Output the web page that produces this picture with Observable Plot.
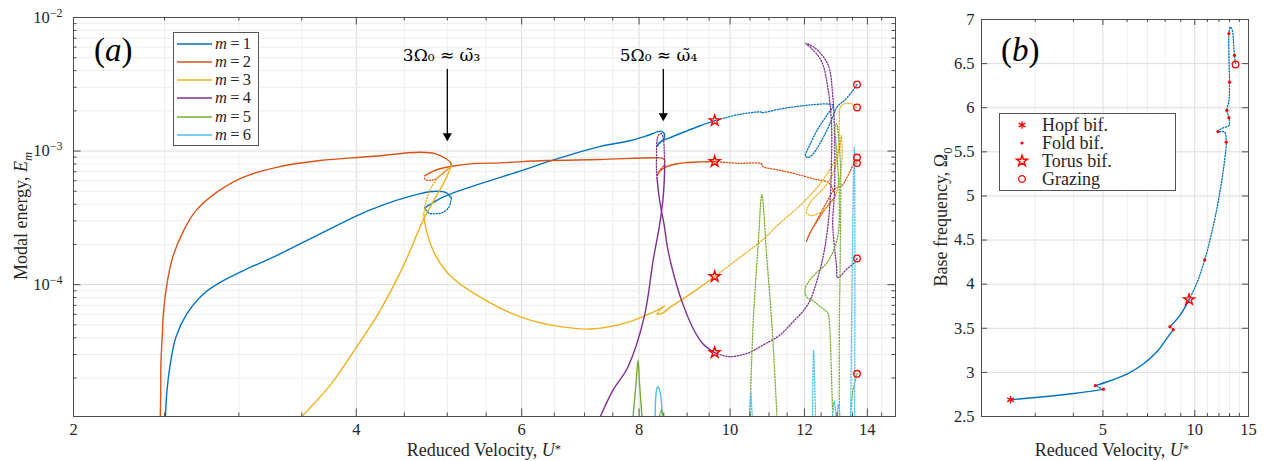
<!DOCTYPE html>
<html>
<head>
<meta charset="utf-8">
<script src="https://cdn.jsdelivr.net/npm/d3@7"></script>
<script src="https://cdn.jsdelivr.net/npm/@observablehq/plot@0.6"></script>
<style>
html,body{margin:0;padding:0;background:#fff;}
#wrap{position:relative;width:1269px;height:461px;overflow:hidden;font-family:"Liberation Serif","DejaVu Serif",serif;color:#262626;}
.panel{position:absolute;top:0}
.lbl{position:absolute;white-space:nowrap;line-height:1}
.ytitle{position:absolute;white-space:nowrap;transform:translate(-50%,-50%) rotate(-90deg);font-size:18px;line-height:1}
.xtitle{position:absolute;white-space:nowrap;transform:translate(-50%,-50%);font-size:18px;line-height:1}
.xtitle sup{vertical-align:0.25em}
.legend{position:absolute;background:#fff;border:1px solid #555;box-sizing:border-box}
.row{position:absolute;left:0;right:0;height:18px;line-height:18px;white-space:nowrap}
sub,sup{font-size:70%;line-height:0}
</style>
</head>
<body>
<div id="wrap">
  <div id="pa" class="panel" style="left:0"></div>
  <div id="pb" class="panel" style="left:905px"></div>
</div>
<script>
// ---------------- DATA: panel (a) modal energy vs reduced velocity ----------------
const modes = [1, 2, 3, 4, 5, 6];
const modeColors = ["#0072BD", "#D95319", "#EDB120", "#7E2F8E", "#77AC30", "#4DBEEE"];

const m1 = [
  {stable: true, pts: [[2.505,1.0e-5],[2.515,1.61e-5],[2.536,2.56e-5],[2.57,4.03e-5],[2.64,6.03e-5],[2.75,8.52e-5],[2.866,1.04e-4],[3.03,1.27e-4],[3.29,1.65e-4],[3.66,2.4e-4],[4.14,3.63e-4],[4.68,4.8e-4],[4.87,5.0e-4],[4.99,4.87e-4],[5.05,4.45e-4]]},
  {stable: false, pts: [[5.05,4.45e-4],[5.02,3.8e-4],[4.94,3.46e-4],[4.87,3.4e-4],[4.79,3.42e-4],[4.74,3.65e-4],[4.735,3.77e-4]]},
  {stable: true, pts: [[4.735,3.77e-4],[4.79,3.97e-4],[4.91,4.4e-4],[5.05,4.8e-4],[5.415,5.68e-4],[6.0,7.14e-4],[6.5,8.62e-4],[7.263,1.08e-3],[7.84,1.2e-3],[8.2,1.32e-3],[8.44,1.41e-3],[8.51,1.35e-3],[8.51,1.25e-3]]},
  {stable: false, pts: [[8.51,1.25e-3],[8.43,1.16e-3],[8.36,1.08e-3]]},
  {stable: true, pts: [[8.36,1.08e-3],[8.41,1.16e-3],[8.61,1.25e-3],[8.96,1.40e-3],[9.28,1.54e-3],[9.63,1.69e-3]]},
  {stable: false, pts: [[9.63,1.69e-3],[10.23,1.88e-3],[10.79,1.96e-3],[10.81,1.94e-3],[11.28,2.06e-3],[11.79,2.16e-3],[12.30,2.23e-3],[12.70,2.25e-3],[12.88,2.19e-3],[12.70,1.89e-3],[12.39,1.45e-3],[12.15,1.10e-3],[12.03,9.25e-4],[12.09,8.94e-4],[12.21,9.25e-4],[12.48,1.16e-3],[12.79,1.635e-3],[13.01,2.16e-3],[13.23,2.39e-3],[13.46,2.74e-3],[13.65,3.15e-3]]}
];
const m2 = [
  {stable: true, pts: [[2.474,1.0e-5],[2.477,1.61e-5],[2.478,2.56e-5],[2.486,4.15e-5],[2.493,6.06e-5],[2.515,1.01e-4],[2.55,1.6e-4],[2.62,2.54e-4],[2.70,3.58e-4],[2.84,4.91e-4],[3.03,6.36e-4],[3.29,7.55e-4],[3.66,8.49e-4],[4.14,9.10e-4],[4.68,9.8e-4],[4.87,9.5e-4],[4.99,8.72e-4],[5.04,8.20e-4],[5.05,7.79e-4]]},
  {stable: false, pts: [[5.05,7.79e-4],[4.94,6.75e-4],[4.82,6.05e-4],[4.73,6.19e-4],[4.735,6.55e-4]]},
  {stable: true, pts: [[4.735,6.55e-4],[4.82,7.02e-4],[4.91,7.37e-4],[5.06,7.7e-4],[5.32,8.05e-4],[5.687,8.16e-4],[6.37,8.49e-4],[7.263,8.64e-4],[8.41,8.9e-4],[8.49,8.79e-4],[8.52,8.49e-4]]},
  {stable: false, pts: [[8.52,8.49e-4],[8.51,7.92e-4],[8.43,7.27e-4],[8.36,6.55e-4]]},
  {stable: true, pts: [[8.36,6.55e-4],[8.41,7.02e-4],[8.55,7.6e-4],[8.75,8.0e-4],[8.96,8.2e-4],[9.3,8.3e-4],[9.63,8.35e-4]]},
  {stable: false, pts: [[9.63,8.35e-4],[10.23,8.1e-4],[10.79,8.06e-4],[10.84,7.66e-4],[11.28,7.2e-4],[11.79,6.70e-4],[12.30,6.16e-4],[12.73,5.81e-4],[12.88,5.06e-4],[12.94,4.64e-4],[12.70,3.91e-4],[12.39,3.01e-4],[12.15,2.41e-4],[12.06,2.1e-4],[12.12,2.3e-4],[12.39,3.1e-4],[12.70,4.26e-4],[12.94,5.24e-4],[13.15,5.5e-4],[13.40,6.9e-4],[13.56,8.06e-4],[13.65,8.13e-4]]}
];
const m3 = [
  {stable: true, pts: [[3.486,1.0e-5],[3.76,1.80e-5],[4.0,3.39e-5],[4.24,6.39e-5],[4.5,1.43e-4],[4.71,3.01e-4],[4.87,4.64e-4],[4.99,6.36e-4],[5.05,7.79e-4]]},
  {stable: false, pts: [[5.05,7.79e-4],[4.91,6.55e-4],[4.82,5.51e-4],[4.76,4.48e-4],[4.73,3.71e-4],[4.72,3.4e-4]]},
  {stable: true, pts: [[4.72,3.4e-4],[4.75,2.54e-4],[4.87,1.6e-4],[5.06,1.13e-4],[5.50,7.59e-5],[6.0,5.69e-5],[6.5,4.93e-5],[7.10,4.65e-5],[7.78,5.22e-5],[8.27,6.2e-5],[8.41,6.57e-5],[8.51,6.9e-5]]},
  {stable: false, pts: [[8.51,6.9e-5],[8.43,6.5e-5],[8.36,6.0e-5]]},
  {stable: true, pts: [[8.36,6.0e-5],[8.45,6.06e-5],[8.67,6.9e-5],[8.96,8.03e-5],[9.28,9.5e-5],[9.63,1.15e-4]]},
  {stable: false, pts: [[9.63,1.15e-4],[10.23,1.59e-4],[10.81,2.14e-4],[11.28,2.86e-4],[11.79,3.74e-4],[12.30,5.06e-4],[12.63,6.44e-4],[12.88,8.06e-4],[13.07,1.01e-3],[13.13,1.31e-3],[13.16,1.01e-3],[13.10,6.55e-4],[12.94,4.64e-4],[12.63,3.71e-4],[12.21,3.29e-4],[12.06,3.46e-4],[12.21,4.26e-4],[12.57,5.24e-4],[12.88,6.9e-4],[13.04,1.01e-3],[13.07,1.69e-3],[13.10,2.12e-3],[13.23,2.26e-3],[13.46,2.26e-3],[13.65,2.12e-3]]}
];
const m4 = [
  {stable: true, pts: [[7.263,1.0e-5],[7.5,1.61e-5],[7.78,2.4e-5],[8.10,5.69e-5],[8.28,1.51e-4],[8.41,2.77e-4],[8.48,4.26e-4],[8.51,6.01e-4],[8.52,7.79e-4]]},
  {stable: false, pts: [[8.52,7.79e-4],[8.51,1.009e-3],[8.49,1.24e-3],[8.45,1.35e-3],[8.40,1.33e-3],[8.36,1.2e-3],[8.35,9.25e-4],[8.35,7.14e-4],[8.36,6.33e-4]]},
  {stable: true, pts: [[8.36,6.33e-4],[8.40,4.64e-4],[8.45,3.58e-4],[8.51,2.77e-4],[8.57,1.96e-4],[8.67,1.35e-4],[8.88,7.59e-5],[9.16,4.52e-5],[9.36,3.6e-5],[9.63,3.1e-5]]},
  {stable: false, pts: [[9.63,3.1e-5],[9.98,2.89e-5],[10.48,3.1e-5],[10.84,3.53e-5],[11.28,4.15e-5],[11.59,5.01e-5],[12.10,7.10e-5],[12.40,1.13e-4],[12.60,1.81e-4],[12.76,3.65e-4],[12.82,8.2e-4],[12.82,1.65e-3],[12.71,2.96e-3],[12.51,4.72e-3],[12.18,5.96e-3],[12.04,6.39e-3],[12.30,5.96e-3],[12.71,4.45e-3],[12.86,2.63e-3],[12.92,1.24e-3],[12.92,5.17e-4],[12.86,2.88e-4],[12.91,1.96e-4],[12.98,1.39e-4],[13.02,1.13e-4],[13.33,1.32e-4],[13.56,1.46e-4],[13.65,1.57e-4]]}
];
const m5 = [
  {stable: true, pts: [[7.88,1.0e-5],[7.94,1.8e-5],[7.98,2.72e-5],[8.01,1.8e-5],[8.06,1.0e-5]]},
  {stable: false, pts: [[8.40,1.0e-5],[8.45,1.15e-5],[8.49,1.0e-5]]},
  {stable: false, pts: [[10.50,1.0e-5],[10.58,5.01e-5],[10.72,2.15e-4],[10.81,4.72e-4],[10.94,1.61e-4],[11.08,5.01e-5],[11.22,1.0e-5]]},
  {stable: false, pts: [[12.86,1.0e-5],[12.79,3.61e-5],[12.76,5.01e-5],[12.70,6.16e-5],[12.51,6.72e-5],[12.27,7.52e-5],[12.06,8.13e-5],[12.03,9.5e-5],[12.27,1.17e-4],[12.70,1.48e-4],[13.01,2.24e-4],[13.07,4.26e-4],[13.01,8.49e-4],[12.94,1.55e-3],[12.98,1.6e-3],[13.10,8.49e-4],[13.10,1.8e-4],[13.07,4.52e-5],[13.07,1.0e-5]]},
  {stable: false, pts: [[13.43,1.0e-5],[13.49,1.47e-5],[13.56,1.81e-5],[13.65,2.15e-5]]}
];
const m6 = [
  {stable: true, pts: [[8.32,1.0e-5],[8.35,1.61e-5],[8.38,1.72e-5],[8.43,1.53e-5],[8.47,1.0e-5]]},
  {stable: false, pts: [[10.49,1.0e-5],[10.52,1.55e-5],[10.56,1.0e-5]]},
  {stable: false, pts: [[12.24,1.0e-5],[12.27,3.2e-5],[12.33,1.0e-5]]},
  {stable: false, pts: [[12.85,1.0e-5],[12.91,1.35e-5],[12.98,1.0e-5],[13.04,1.27e-5],[13.10,1.0e-5]]},
  {stable: false, pts: [[13.44,1.0e-5],[13.50,2.0e-4],[13.56,1.06e-3],[13.58,2.0e-4],[13.57,1.0e-5]]}
];
const torusA = [[9.63,1.69e-3],[9.63,8.35e-4],[9.63,1.15e-4],[9.63,3.1e-5]];
const grazingA = [[13.65,3.15e-3],[13.65,2.12e-3],[13.65,8.94e-4],[13.65,8.13e-4],[13.65,1.57e-4],[13.65,2.15e-5]];

const annotLabels = ["3Ω₀ ≈ ω̃₃", "5Ω₀ ≈ ω̃₄"];
const annotTextU = [4.93, 8.39];
const annotTextE = [5.2e-3, 5.2e-3];
const annotArrowU = [5.0, 8.49];
const annotArrowFromE = [4.08e-3, 4.08e-3];
const annotArrowToE = [1.234e-3, 1.742e-3];

const aXLabels = [2, 4, 6, 8, 10, 12, 14];
const aXMinor = [2.5, 3, 3.5, 4.5, 5, 5.5, 6.5, 7, 7.5, 8.5, 9, 9.5, 10.5, 11, 11.5, 12.5, 13, 13.5, 14.5];
const aYLabels = [1e-4, 1e-3, 1e-2];
const aYMinor = [1e-5, 1e-4, 1e-3].flatMap(d => [2,3,4,5,6,7,8,9].map(k => k * d));

// ---------------- DATA: panel (b) base frequency ----------------
const bBranch = [
  {stable: true, pts: [[2.49,2.69],[3.20,2.724],[4.01,2.761],[4.66,2.79],[5.02,2.81]]},
  {stable: false, pts: [[5.02,2.81],[4.85,2.83],[4.72,2.85]]},
  {stable: true, pts: [[4.72,2.85],[5.28,2.905],[5.99,2.98],[6.78,3.095],[7.50,3.23],[8.08,3.38],[8.50,3.484]]},
  {stable: false, pts: [[8.50,3.484],[8.29,3.518]]},
  {stable: true, pts: [[8.29,3.518],[8.93,3.643],[9.58,3.825]]},
  {stable: false, pts: [[9.58,3.825],[10.13,4.003],[10.78,4.275],[11.47,4.645],[12.06,5.024],[12.52,5.40],[12.68,5.61],[12.52,5.724],[11.91,5.73],[12.36,5.77],[12.94,5.80],[12.94,5.887],[12.74,5.97],[12.94,6.08],[13.0,6.29],[12.94,6.575],[12.94,6.84],[13.07,6.915],[13.27,6.88],[13.4,6.73],[13.49,6.594],[13.6,6.49]]}
];
const bHopf = [[2.49,2.69]];
const bFold = [[5.02,2.81],[4.72,2.85],[8.50,3.484],[8.29,3.518],[10.78,4.275],[12.68,5.61],[11.91,5.73],[12.94,5.887],[12.74,5.97],[13.0,6.29],[12.94,6.84],[13.49,6.594]];
const bTorus = [[9.58,3.825]];
const bGrazing = [[13.6,6.49]];
const bLegendLabels = ["Hopf bif.", "Fold bif.", "Torus bif.", "Grazing"];

const bXLabels = [5, 10, 15];
const bXMinor = [2, 3, 4, 6, 7, 8, 9, 11, 12, 13, 14];
const bYLabels = [2.5, 3, 3.5, 4, 4.5, 5, 5.5, 6, 6.5, 7];

// ---------------- RENDER ----------------
const FONT = '"Liberation Serif","DejaVu Serif",serif';
const AX = "#4d4d4d", GMAJ = "#dcdcdc", GMIN = "#eeeeee", MARK = "#ff0000";
const DOTS = "1.2,1.7";
const CURVE = "catmull-rom";

const rowsA = [m1, m2, m3, m4, m5, m6].flatMap((segs, i) =>
  segs.flatMap((s, j) => s.pts.map(([U, E]) => ({m: modes[i], seg: `${i}-${j}`, stable: s.stable, U, E}))));
const rowsB = bBranch.flatMap((s, j) => s.pts.map(([U, W]) => ({seg: j, stable: s.stable, U, W})));

const A = {w: 905, h: 461, l: 73, r: 10, t: 17, b: 45};
const aIH = A.h - A.t - A.b, aIW = A.w - A.l - A.r;

const plotA = Plot.plot({
  width: A.w, height: A.h, marginLeft: A.l, marginRight: A.r, marginTop: A.t, marginBottom: A.b,
  x: {type: "log", domain: [2, 15]},
  y: {type: "log", domain: [1.03e-5, 1e-2]},
  color: {type: "ordinal", domain: modes, range: modeColors},
  style: {fontFamily: FONT, fontSize: "16.5px", color: "#262626", background: "transparent", overflow: "visible"},
  marks: [
    Plot.ruleX(aXMinor, {stroke: GMIN}),
    Plot.ruleX(aXLabels, {stroke: GMAJ}),
    Plot.ruleY(aYMinor, {stroke: GMIN}),
    Plot.ruleY(aYLabels, {stroke: GMAJ}),
    Plot.line(rowsA, {filter: d => d.stable, x: "U", y: "E", z: "seg", stroke: "m", strokeWidth: 1.4, curve: CURVE, clip: true}),
    Plot.line(rowsA, {filter: d => !d.stable, x: "U", y: "E", z: "seg", stroke: "m", strokeWidth: 1.3, strokeDasharray: DOTS, curve: CURVE, clip: true}),
    Plot.dot(torusA, {x: d => d[0], y: d => d[1], symbol: "star", r: 3.4, stroke: MARK, fill: "none", strokeWidth: 1.4}),
    Plot.dot(grazingA, {x: d => d[0], y: d => d[1], r: 3.3, stroke: MARK, fill: "none", strokeWidth: 1.3}),
    Plot.arrow(annotArrowU, {x1: d => d, x2: d => d, y1: (d, i) => annotArrowFromE[i], y2: (d, i) => annotArrowToE[i], stroke: "#000", strokeWidth: 1.3, headLength: 0}),
    Plot.dot(annotArrowU, {x: d => d, y: (d, i) => annotArrowToE[i], symbol: "triangle", rotate: 180, r: 3.4, fill: "#000", stroke: "none", dy: -3}),
    Plot.text(annotLabels, {x: (d, i) => annotTextU[i], y: (d, i) => annotTextE[i], text: d => d, fontSize: 17, fontFamily: '"DejaVu Serif",serif', fill: "#000"}),
    Plot.tickX(aXLabels, {x: d => d, stroke: AX, insetTop: aIH - 7.5}),
    Plot.tickX(aXLabels, {x: d => d, stroke: AX, insetBottom: aIH - 7.5}),
    Plot.tickX(aXMinor, {x: d => d, stroke: AX, insetTop: aIH - 3.5}),
    Plot.tickX(aXMinor, {x: d => d, stroke: AX, insetBottom: aIH - 3.5}),
    Plot.tickY(aYLabels, {y: d => d, stroke: AX, insetRight: aIW - 7.5}),
    Plot.tickY(aYLabels, {y: d => d, stroke: AX, insetLeft: aIW - 7.5}),
    Plot.tickY(aYMinor, {y: d => d, stroke: AX, insetRight: aIW - 3.5}),
    Plot.tickY(aYMinor, {y: d => d, stroke: AX, insetLeft: aIW - 3.5}),
    Plot.frame({stroke: AX}),
    Plot.axisX({ticks: aXLabels, tickSize: 0, tickPadding: 7, tickFormat: d => String(d), label: null, fontSize: 16.5}),
    Plot.axisY({ticks: aYLabels, tickSize: 0, tickPadding: 11, tickFormat: d => "10^" + Math.round(Math.log10(d)), label: null, fontSize: 16.5})
  ]
});
document.getElementById("pa").appendChild(plotA);

// superscript exponents on y tick labels
d3.select(plotA).selectAll("text").each(function () {
  const t = this.textContent;
  if (/^10\^-?\d+$/.test(t)) {
    const e = t.split("^")[1];
    this.textContent = "";
    d3.select(this).append("tspan").text("10");
    d3.select(this).append("tspan").attr("dy", "-0.5em").attr("font-size", "12px").text(e.replace("-", "−"));
  }
});

const B = {w: 364, h: 461, l: 76, r: 21, t: 19, b: 45};
const bIH = B.h - B.t - B.b, bIW = B.w - B.l - B.r;
const plotB = Plot.plot({
  width: B.w, height: B.h, marginLeft: B.l, marginRight: B.r, marginTop: B.t, marginBottom: B.b,
  x: {type: "log", domain: [2, 15]},
  y: {domain: [2.5, 7]},
  style: {fontFamily: FONT, fontSize: "16.5px", color: "#262626", background: "transparent", overflow: "visible"},
  marks: [
    Plot.ruleX(bXMinor, {stroke: GMIN}),
    Plot.ruleX(bXLabels, {stroke: GMAJ}),
    Plot.ruleY(bYLabels, {stroke: GMAJ}),
    Plot.line(rowsB, {filter: d => d.stable, x: "U", y: "W", z: "seg", stroke: modeColors[0], strokeWidth: 1.4, curve: CURVE}),
    Plot.line(rowsB, {filter: d => !d.stable, x: "U", y: "W", z: "seg", stroke: modeColors[0], strokeWidth: 1.3, strokeDasharray: DOTS, curve: CURVE}),
    Plot.dot(bFold, {x: d => d[0], y: d => d[1], r: 1.6, fill: MARK, stroke: "none"}),
    Plot.dot(bHopf, {x: d => d[0], y: d => d[1], symbol: "asterisk", r: 3.6, stroke: MARK, strokeWidth: 1.3}),
    Plot.dot(bTorus, {x: d => d[0], y: d => d[1], symbol: "star", r: 3.4, stroke: MARK, fill: "none", strokeWidth: 1.4}),
    Plot.dot(bGrazing, {x: d => d[0], y: d => d[1], r: 3.3, stroke: MARK, fill: "none", strokeWidth: 1.3}),
    Plot.tickX(bXLabels, {x: d => d, stroke: AX, insetTop: bIH - 6}),
    Plot.tickX(bXLabels, {x: d => d, stroke: AX, insetBottom: bIH - 6}),
    Plot.tickX(bXMinor, {x: d => d, stroke: AX, insetTop: bIH - 3}),
    Plot.tickX(bXMinor, {x: d => d, stroke: AX, insetBottom: bIH - 3}),
    Plot.tickY(bYLabels, {y: d => d, stroke: AX, insetRight: bIW - 6}),
    Plot.tickY(bYLabels, {y: d => d, stroke: AX, insetLeft: bIW - 6}),
    Plot.frame({stroke: AX}),
    Plot.axisX({ticks: bXLabels, tickSize: 0, tickPadding: 7, tickFormat: d => String(d), label: null, fontSize: 16.5}),
    Plot.axisY({ticks: bYLabels, tickSize: 0, tickPadding: 7, tickFormat: d => String(d), label: null, fontSize: 16.5})
  ]
});
document.getElementById("pb").appendChild(plotB);

// ---------------- overlay text, legends ----------------
const wrap = document.getElementById("wrap");
function addDiv(cls, style, html) {
  const d = document.createElement("div");
  d.className = cls; d.setAttribute("style", style); d.innerHTML = html;
  wrap.appendChild(d); return d;
}
addDiv("lbl", "left:94px;top:34px;font-size:33px;color:#000", "(<i>a</i>)");
addDiv("lbl", "left:1001px;top:34px;font-size:33px;color:#000", "(<i>b</i>)");
addDiv("xtitle", "left:484px;top:450px", "Reduced Velocity, <i>U</i><sup>*</sup>");
addDiv("xtitle", "left:1112px;top:450px", "Reduced Velocity, <i>U</i><sup>*</sup>");
addDiv("ytitle", "left:21px;top:216px", "Modal energy, <i>E<sub>m</sub></i>");
addDiv("ytitle", "left:941px;top:217px", "Base frequency, Ω<sub>0</sub>");

// legend (a)
const legA = addDiv("legend", "left:173px;top:32px;width:86px;height:114px", "");
modes.forEach((m, i) => {
  const r = document.createElement("div");
  r.className = "row";
  r.style.top = (1.5 + i * 18.3) + "px";
  r.style.fontSize = "16.5px";
  r.innerHTML = `<svg width="40" height="18" style="position:absolute;left:0;top:0"><line x1="3" x2="38" y1="9" y2="9" stroke="${modeColors[i]}" stroke-width="1.6"/></svg>` +
    `<span style="position:absolute;left:41px"><i>m</i>&thinsp;=&thinsp;${m}</span>`;
  legA.appendChild(r);
});

// legend (b)
const legB = addDiv("legend", "left:999px;top:113px;width:177px;height:78px", "");
const sym = [
  `<path d="${d3.symbol(d3.symbolAsterisk, Math.PI * 3.6 * 3.6)()}" stroke="${MARK}" stroke-width="1.3" fill="none"/>`,
  `<circle r="1.6" fill="${MARK}"/>`,
  `<path d="${d3.symbol(d3.symbolStar, Math.PI * 3.4 * 3.4)()}" stroke="${MARK}" stroke-width="1.4" fill="none"/>`,
  `<circle r="3.3" stroke="${MARK}" stroke-width="1.3" fill="none"/>`
];
bLegendLabels.forEach((t, i) => {
  const r = document.createElement("div");
  r.className = "row";
  r.style.top = (1.5 + i * 18.3) + "px";
  r.style.fontSize = "18px";
  r.innerHTML = `<svg width="16" height="16" style="position:absolute;left:14px;top:1px;overflow:visible"><g transform="translate(8,8)">${sym[i]}</g></svg>` +
    `<span style="position:absolute;left:42px">${t}</span>`;
  legB.appendChild(r);
});
</script>
</body>
</html>
